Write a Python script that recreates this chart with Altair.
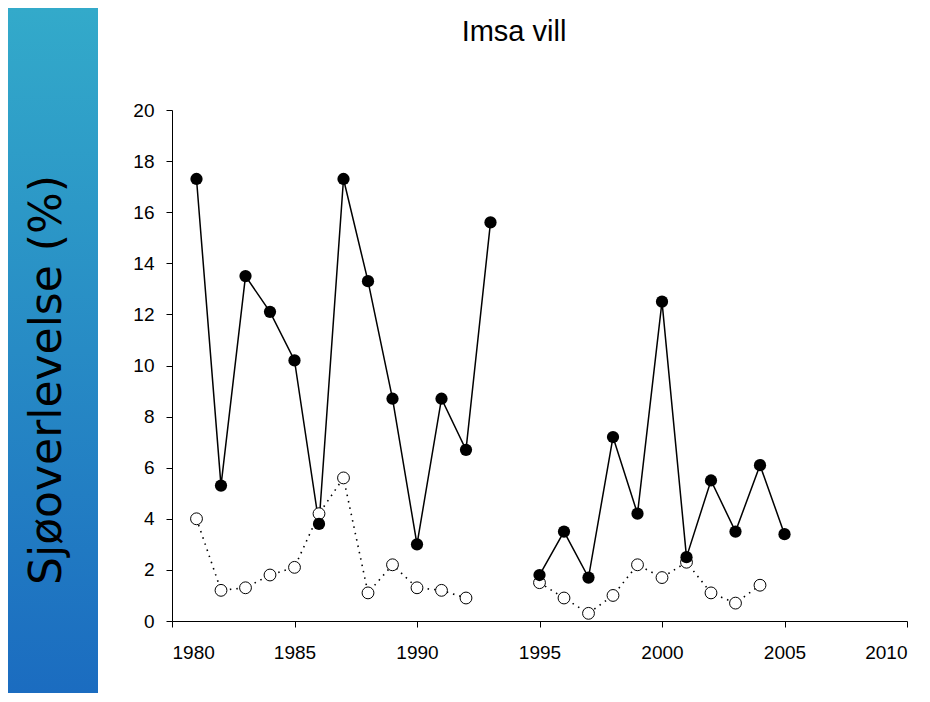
import altair as alt
import pandas as pd

# Filled (solid line) series
years_filled = [1981, 1982, 1983, 1984, 1985, 1986, 1987, 1988, 1989, 1990, 1991, 1992, 1993,
                1995, 1996, 1997, 1998, 1999, 2000, 2001, 2002, 2003, 2004, 2005]
values_filled = [17.3, 5.3, 13.5, 12.1, 10.2, 3.8, 17.3, 13.3, 8.7, 3.0, 8.7, 6.7, 15.6,
                 1.8, 3.5, 1.7, 7.2, 4.2, 12.5, 2.5, 5.5, 3.5, 6.1, 3.4]

# Open (dotted line) series
years_open = [1981, 1982, 1983, 1984, 1985, 1986, 1987, 1988, 1989, 1990, 1991, 1992,
              1995, 1996, 1997, 1998, 1999, 2000, 2001, 2002, 2003, 2004]
values_open = [4.0, 1.2, 1.3, 1.8, 2.1, 4.2, 5.6, 1.1, 2.2, 1.3, 1.2, 0.9,
               1.5, 0.9, 0.3, 1.0, 2.2, 1.7, 2.3, 1.1, 0.7, 1.4]

x_ticks = [1980, 1985, 1990, 1995, 2000, 2005, 2010]
y_ticks = [0, 2, 4, 6, 8, 10, 12, 14, 16, 18, 20]

title_text = "Imsa vill"
y_title = "Sjøoverlevelse (%)"

df_f = pd.DataFrame({"year": years_filled, "value": values_filled})
df_f["segment"] = ["a" if y < 1994 else "b" for y in years_filled]
df_o = pd.DataFrame({"year": years_open, "value": values_open})
df_o["segment"] = ["a" if y < 1994 else "b" for y in years_open]

FONT = "Liberation Sans"
W, H = 735, 511
PAD_B = 72

xs = alt.Scale(domain=[1980, 2010], nice=False, zero=False)
ys = alt.Scale(domain=[0, 20], nice=False)

x_axis = alt.Axis(values=x_ticks, format="d", title=None, grid=False, domain=True,
                  domainColor="black", tickColor="black", tickSize=6, labelFontSize=19,
                  labelFont=FONT, labelColor="black", labelPadding=16)
y_axis = alt.Axis(values=y_ticks, title=None, grid=False, domain=True,
                  domainColor="black", tickColor="black", tickSize=6, labelFontSize=19,
                  labelFont=FONT, labelColor="black", labelPadding=12)

grad = alt.LinearGradient(
    gradient="linear",
    stops=[alt.GradientStop(color="#33AACA", offset=0),
           alt.GradientStop(color="#1B6CC0", offset=1)],
    x1=0, x2=0, y1=0, y2=1,
)

sidebar = alt.Chart(pd.DataFrame({"k": [0]})).mark_rect(color=grad).encode(
    x=alt.value(-164), x2=alt.value(-74), y=alt.value(-102), y2=alt.value(H + PAD_B)
)

ytitle = alt.Chart(pd.DataFrame({"t": [y_title]})).mark_text(
    angle=270, fontSize=44, font="DejaVu Sans", color="black", align="center", baseline="middle"
).encode(x=alt.value(-124), y=alt.value(270), text="t:N")

ttl = alt.Chart(pd.DataFrame({"t": [title_text]})).mark_text(
    fontSize=29, font=FONT, color="black", align="center", baseline="middle"
).encode(x=alt.value(342), y=alt.value(-78), text="t:N")

line_f = alt.Chart(df_f).mark_line(color="black", strokeWidth=1.5).encode(
    x=alt.X("year:Q", scale=xs, axis=x_axis),
    y=alt.Y("value:Q", scale=ys, axis=y_axis),
    detail="segment:N",
)
line_o = alt.Chart(df_o).mark_line(color="black", strokeWidth=1.6, strokeDash=[1.5, 5]).encode(
    x=alt.X("year:Q", scale=xs),
    y=alt.Y("value:Q", scale=ys),
    detail="segment:N",
)
pts_o = alt.Chart(df_o).mark_point(shape="circle", filled=True, fill="white", stroke="black",
                                   strokeWidth=1, size=140, opacity=1).encode(
    x=alt.X("year:Q", scale=xs),
    y=alt.Y("value:Q", scale=ys),
)
pts_f = alt.Chart(df_f).mark_point(shape="circle", filled=True, color="black",
                                   size=150, opacity=1).encode(
    x=alt.X("year:Q", scale=xs),
    y=alt.Y("value:Q", scale=ys),
)

chart = alt.layer(sidebar, ytitle, ttl, line_o, line_f, pts_o, pts_f).properties(
    width=W, height=H,
    padding={"left": 164, "top": 102, "right": 15, "bottom": PAD_B},
    autosize=alt.AutoSizeParams(type="none"),
    background="white",
).configure_view(stroke=None)

chart.save("out.html", embed_options={"renderer": "svg", "actions": False})
